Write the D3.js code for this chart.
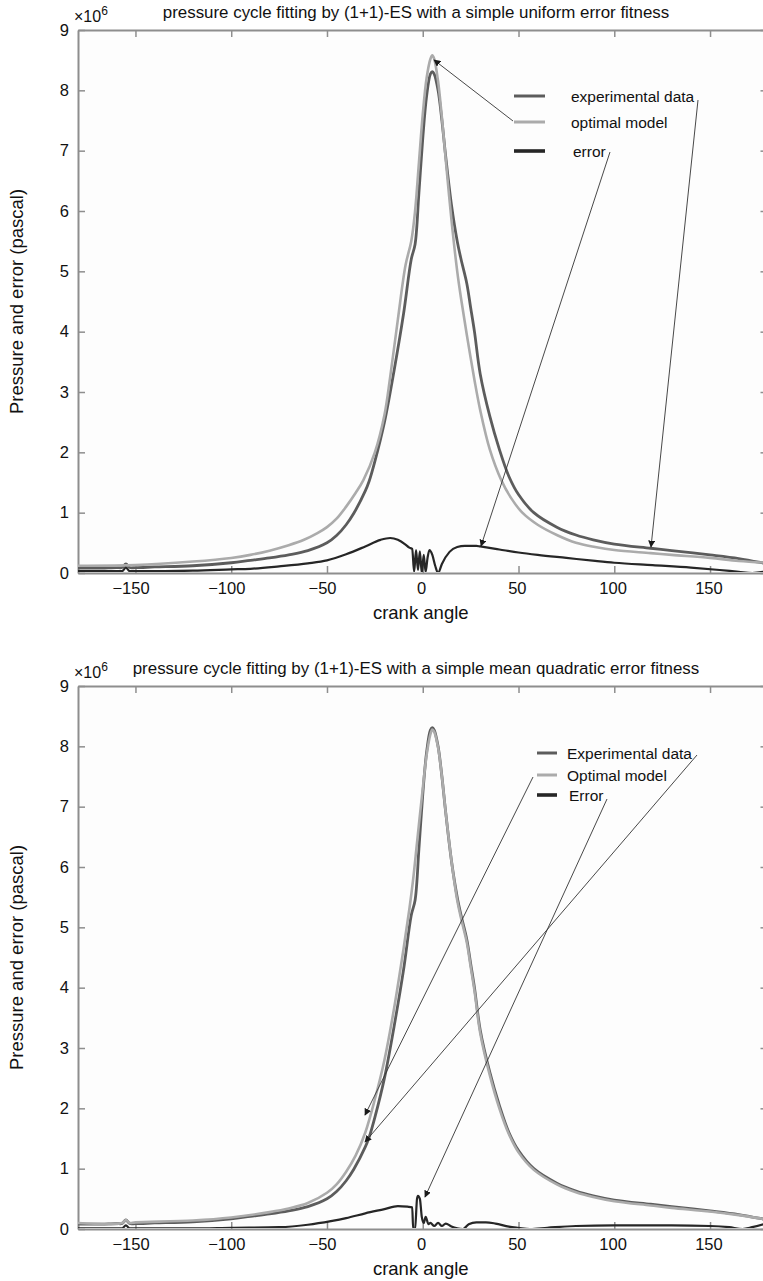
<!DOCTYPE html>
<html>
<head>
<meta charset="utf-8">
<script src="https://cdn.jsdelivr.net/npm/d3@7"></script>
<style>
  html, body { margin: 0; padding: 0; background: #fff; }
  svg { display: block; font-family: "Liberation Sans", Arial, Helvetica, sans-serif; }
</style>
</head>
<body>
<svg id="chart" width="763" height="1281"></svg>
<script>
// ---- data -------------------------------------------------------------
// crank angle (deg) / pressure (×10^6 Pa)
const xTicks = [-150, -100, -50, 0, 50, 100, 150];
const yTicks = [0, 1, 2, 3, 4, 5, 6, 7, 8, 9];

// measured pressure cycle (shared by both fits)
const expAngle = [-180,-170,-160,-157,-155,-153,-150,-140,-120,-100,-90,-80,-70,-60,-50,-45,-40,-36,-30,-28,-25,-20,-15,-10,-6,-4,-2,0,2,4,5,6,8,10,12,15,18,20,23,25,27,30,35,40,45,50,58,70,80,89,100,119,130,150,165,177,180];
const expValue = [0.08,0.08,0.09,0.09,0.15,0.09,0.09,0.10,0.12,0.17,0.21,0.25,0.30,0.37,0.50,0.62,0.80,0.99,1.36,1.52,1.85,2.50,3.35,4.30,5.20,5.45,6.30,7.20,7.90,8.27,8.31,8.27,8.00,7.50,6.90,6.10,5.50,5.20,4.80,4.40,4.00,3.30,2.60,2.05,1.60,1.30,1.00,0.76,0.63,0.55,0.48,0.41,0.37,0.30,0.24,0.17,0.15];

// (1+1)-ES, uniform error fitness
const uniModelAngle = [-180,-150,-120,-100,-90,-80,-70,-62,-55,-50,-45,-40,-35,-31,-25,-20,-17,-13,-9,-6,-4,-2,0,2,4,5,6,8,10,12,15,18,20,23,27,30,35,41,46,52,60,70,80,90,100,119,130,150,165,180];
const uniModelValue = [0.12,0.13,0.19,0.25,0.30,0.37,0.46,0.55,0.66,0.76,0.90,1.10,1.33,1.54,2.00,2.62,3.25,4.20,5.10,5.50,6.00,6.80,7.60,8.20,8.52,8.58,8.52,8.15,7.55,6.85,5.85,5.00,4.55,3.95,3.20,2.70,2.05,1.54,1.25,1.00,0.80,0.63,0.50,0.43,0.38,0.33,0.30,0.25,0.20,0.17];
const uniErrorAngle = [-180,-160,-157,-155,-153,-150,-120,-100,-90,-75,-60,-50,-40,-30,-22,-17,-13,-9,-7,-5.5,-4.5,-3.5,-2.5,-1.5,-0.5,0.5,1.5,2.5,3.5,5,6.5,8,10,14,18,22,28,30,40,50,60,75,90,100,120,140,155,165,172,180];
const uniErrorValue = [0.03,0.03,0.03,0.09,0.03,0.03,0.04,0.06,0.07,0.11,0.16,0.21,0.31,0.44,0.55,0.58,0.55,0.47,0.42,0.40,0.02,0.38,0.05,0.36,0.00,0.30,0.02,0.25,0.38,0.30,0.12,0.00,0.15,0.35,0.43,0.45,0.45,0.44,0.39,0.34,0.30,0.25,0.20,0.17,0.13,0.09,0.05,0.02,0.00,0.03];

// (1+1)-ES, mean quadratic error fitness
const quadModelAngle = [-180,-157,-155,-153,-150,-120,-100,-80,-70,-60,-50,-45,-40,-35,-30,-25,-20,-15,-10,-7,-5,-3,0,2,4,5,6,8,10,12,15,18,20,23,25,27,30,35,40,45,50,58,70,80,89,100,119,130,150,165,177,180];
const quadModelValue = [0.10,0.10,0.15,0.10,0.11,0.14,0.19,0.28,0.34,0.43,0.60,0.74,0.95,1.22,1.60,2.15,2.80,3.65,4.65,5.30,5.80,6.40,7.30,7.85,8.20,8.28,8.24,7.98,7.50,6.90,6.10,5.45,5.15,4.75,4.35,3.95,3.25,2.55,2.00,1.57,1.27,0.98,0.74,0.61,0.53,0.46,0.39,0.35,0.29,0.23,0.17,0.16];
const quadErrorAngle = [-180,-157,-155,-153,-150,-120,-100,-75,-60,-48,-40,-30,-20,-13,-8,-5.5,-5,-4,-3,-2.5,-1.5,-0.5,0.5,1.5,3,4,6,8,10,12,15,18,21,24,28,33,38,45,50,56,65,80,100,130,150,160,167,172,180];
const quadErrorValue = [0.01,0.01,0.06,0.01,0.01,0.01,0.02,0.03,0.07,0.13,0.18,0.26,0.33,0.38,0.37,0.36,0.00,0.00,0.50,0.55,0.50,0.20,0.10,0.20,0.08,0.10,0.05,0.10,0.05,0.09,0.04,0.01,0.00,0.08,0.11,0.11,0.09,0.04,0.02,0.00,0.02,0.05,0.06,0.06,0.05,0.03,0.00,0.03,0.10];

const panels = [
  {
    title: "pressure cycle fitting by (1+1)-ES with a simple uniform error fitness",
    top: 30, bottom: 573,
    model: [uniModelAngle, uniModelValue],
    error: [uniErrorAngle, uniErrorValue],
    legend: { labels: ["experimental data", "optimal model", "error"], x1: 514, x2: 545, tx: 571, ys: [96, 122, 151] },
    arrows: [
      [513, 121, 434, 60],
      [610, 152, 481, 546],
      [698, 100, 651, 547]
    ]
  },
  {
    title: "pressure cycle fitting by (1+1)-ES with a simple mean quadratic error fitness",
    top: 686, bottom: 1229,
    model: [quadModelAngle, quadModelValue],
    error: [quadErrorAngle, quadErrorValue],
    legend: { labels: ["Experimental data", "Optimal model", "Error"], x1: 537, x2: 557, tx: 567, ys: [753, 775, 795] },
    arrows: [
      [533, 777, 365, 1115],
      [697, 755, 365, 1142],
      [607, 799, 425, 1197]
    ]
  }
];

// ---- drawing ----------------------------------------------------------
const svg = d3.select("#chart");
const left = 78, right = 767.5;
const axisColor = "#8e8e8e";
const expColor = "#5c5c5c", modelColor = "#ababab", errColor = "#262626";

const defs = svg.append("defs");
defs.append("marker")
  .attr("id", "head")
  .attr("viewBox", "0 0 10 10")
  .attr("refX", 9).attr("refY", 5)
  .attr("markerWidth", 7).attr("markerHeight", 7)
  .attr("markerUnits", "userSpaceOnUse")
  .attr("orient", "auto")
  .append("path").attr("d", "M0,0 L10,5 L0,10 Z").attr("fill", "#1a1a1a");

const zip = (a, v) => a.map((d, i) => [d, v[i]]);

panels.forEach(p => {
  const x = d3.scaleLinear().domain([-180, 180]).range([left, right]);
  const y = d3.scaleLinear().domain([0, 9]).range([p.bottom, p.top]);
  const g = svg.append("g");

  // plot background
  g.append("rect").attr("x", left).attr("y", p.top)
    .attr("width", right - left).attr("height", p.bottom - p.top)
    .attr("fill", "#fdfdfd");

  const styleAxis = sel => {
    sel.selectAll("path.domain").attr("stroke", axisColor).attr("stroke-width", 2);
    sel.selectAll(".tick line").attr("stroke", axisColor).attr("stroke-width", 1.5);
    sel.selectAll("text").attr("fill", "#111").attr("font-size", 16.5)
      .attr("font-family", '"Liberation Sans", Arial, sans-serif');
  };

  g.append("g").attr("transform", `translate(0,${p.bottom})`)
    .call(d3.axisBottom(x).tickValues(xTicks).tickSizeInner(-7).tickSizeOuter(0).tickPadding(9))
    .call(styleAxis)
    .selectAll("text").attr("dx", d => d < 0 ? "-0.3em" : "-0.1em");
  g.append("g").attr("transform", `translate(0,${p.top})`)
    .call(d3.axisTop(x).tickValues(xTicks).tickSizeInner(-7).tickSizeOuter(0).tickFormat(""))
    .call(styleAxis);
  g.append("g").attr("transform", `translate(${left},0)`)
    .call(d3.axisLeft(y).tickValues(yTicks).tickSizeInner(-7).tickSizeOuter(0).tickPadding(9).tickFormat(d3.format("d")))
    .call(styleAxis);
  g.append("g").attr("transform", `translate(${right},0)`)
    .call(d3.axisRight(y).tickValues(yTicks).tickSizeInner(-7).tickSizeOuter(0).tickFormat(""))
    .call(styleAxis);

  // curves
  const smooth = d3.line().x(d => x(d[0])).y(d => y(d[1])).curve(d3.curveCatmullRom.alpha(0.5));
  const sharp = d3.line().x(d => x(d[0])).y(d => y(d[1])).curve(d3.curveMonotoneX);
  const clipId = "clip" + p.top;
  defs.append("clipPath").attr("id", clipId).append("rect")
    .attr("x", left).attr("y", p.top - 2).attr("width", right - left).attr("height", p.bottom - p.top + 1);
  const plot = g.append("g").attr("clip-path", `url(#${clipId})`);
  plot.append("path").datum(zip(expAngle, expValue))
    .attr("d", smooth).attr("fill", "none").attr("stroke", expColor).attr("stroke-width", 2.8);
  plot.append("path").datum(zip(p.model[0], p.model[1]))
    .attr("d", smooth).attr("fill", "none").attr("stroke", modelColor).attr("stroke-width", 2.6);
  plot.append("path").datum(zip(p.error[0], p.error[1]))
    .attr("d", sharp).attr("fill", "none").attr("stroke", errColor).attr("stroke-width", 2.2);

  // scale factor
  const sf = g.append("text").attr("x", 74).attr("y", p.top - 8)
    .attr("font-size", 16).attr("fill", "#111");
  sf.append("tspan").text("×10");
  sf.append("tspan").attr("dy", -7).attr("font-size", 12).text("6");

  // title
  g.append("text").attr("x", 416).attr("y", p.top - 12)
    .attr("text-anchor", "middle").attr("font-size", 16.9).attr("fill", "#111")
    .text(p.title);

  // axis titles
  g.append("text").attr("x", (left + right) / 2 - 2).attr("y", p.bottom + 46)
    .attr("text-anchor", "middle").attr("font-size", 18.5).attr("fill", "#111")
    .text("crank angle");
  g.append("text")
    .attr("transform", `translate(23,${(p.top + p.bottom) / 2}) rotate(-90)`)
    .attr("text-anchor", "middle").attr("font-size", 18.5).attr("fill", "#111")
    .text("Pressure and error (pascal)");

  // legend
  const L = p.legend;
  const lg = g.append("g");
  [[expColor, 3], [modelColor, 3], [errColor, 3.6]].forEach((s, i) => {
    lg.append("line").attr("x1", L.x1).attr("x2", L.x2)
      .attr("y1", L.ys[i]).attr("y2", L.ys[i])
      .attr("stroke", s[0]).attr("stroke-width", s[1]);
    lg.append("text").attr("x", L.tx + (i === 2 ? 2 : 0)).attr("y", L.ys[i] + 5.5)
      .attr("font-size", 15.5).attr("fill", "#111").text(L.labels[i]);
  });

  // annotation arrows
  p.arrows.forEach(a => {
    g.append("line").attr("x1", a[0]).attr("y1", a[1]).attr("x2", a[2]).attr("y2", a[3])
      .attr("stroke", "#333").attr("stroke-width", 0.9)
      .attr("marker-end", "url(#head)");
  });
});
</script>
</body>
</html>
